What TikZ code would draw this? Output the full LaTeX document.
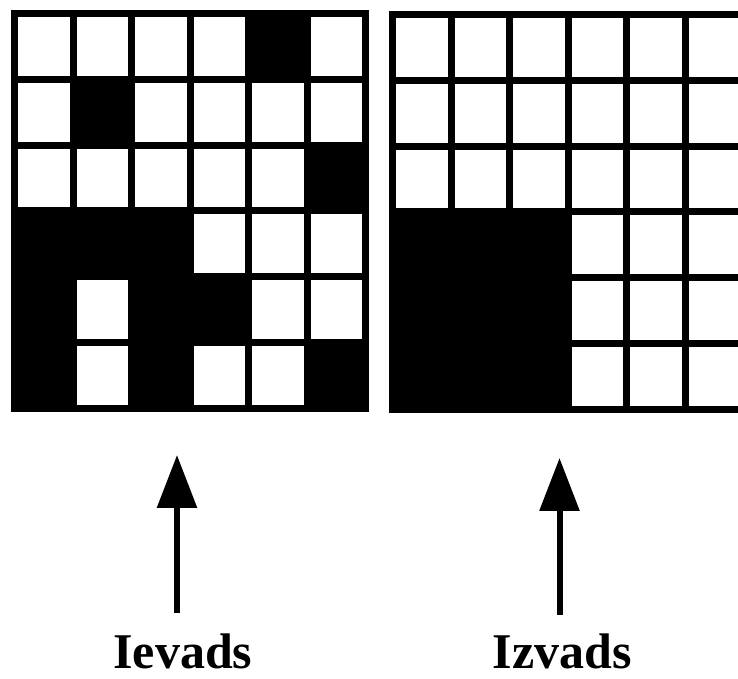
\documentclass[tikz,border=0pt]{standalone}
\usepackage{fontspec}
\setmainfont{Liberation Serif}
\usetikzlibrary{arrows.meta}
\newcommand{\gridcells}[3]{% #1 = left x, #2 = top y, #3 = list of black cells r/c
  \fill[black] (#1,#2) rectangle ++(358,-402);
  \foreach \r in {0,...,5}{
    \foreach \c in {0,...,5}{
      \fill[white] ({#1+7+\c*58.5},{#2-7-\r*65.83}) rectangle ++(51.5,-58.83);
    }
  }
  \foreach \r/\c in {#3}{
    \fill[black] ({#1+7+\c*58.5},{#2-7-\r*65.83}) rectangle ++(51.5,-58.83);
  }
}
\begin{document}
\begin{tikzpicture}[x=1pt,y=1pt,
  arr/.style={line width=6pt, -{Triangle[length=53pt,width=39pt]}},
  lbl/.style={font=\bfseries\fontsize{50}{50}\selectfont, anchor=base, inner sep=0pt, text depth=0pt}]
\useasboundingbox (0,0) rectangle (738,679);
\begin{scope}
  \clip (0,0) rectangle (738,679);
  \gridcells{11}{669}{0/4,1/1,2/5,3/0,3/1,3/2,4/0,4/2,4/3,5/0,5/2,5/5}
  \gridcells{389}{668}{3/0,3/1,3/2,4/0,4/1,4/2,5/0,5/1,5/2}
\end{scope}
\node[lbl] (in) at (183,10) {Ievads};
\node[lbl] (out) at (562,10) {Izvads};
\coordinate (ins) at (177,66);
\coordinate (int) at (177,224);
\coordinate (outs) at (559.5,64);
\coordinate (outt) at (559.5,221);
\draw[arr] (ins) -- (int);
\draw[arr] (outs) -- (outt);
\end{tikzpicture}
\end{document}
